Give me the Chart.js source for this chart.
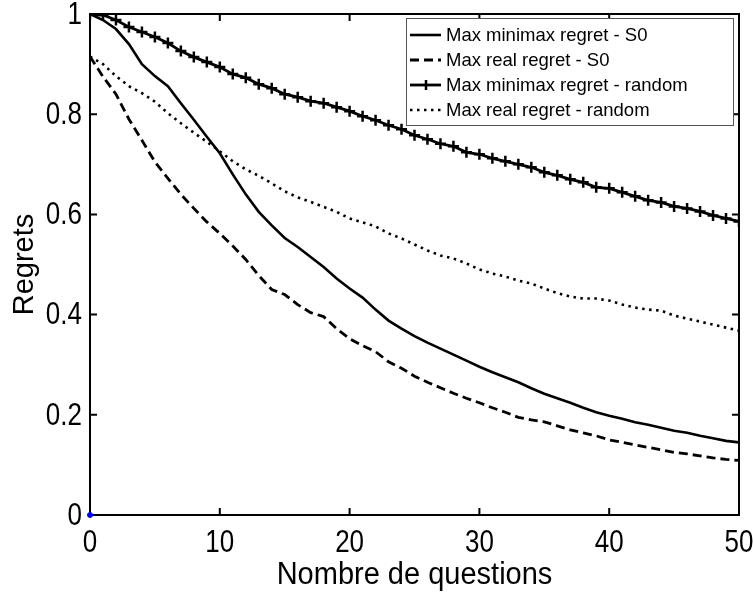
<!DOCTYPE html>
<html>
<head>
<meta charset="utf-8">
<title>Regrets</title>
<script src="https://cdn.jsdelivr.net/npm/chart.js@4.4.1/dist/chart.umd.min.js"></script>
<style>
  html, body { margin: 0; padding: 0; background: #fff; }
  #wrap { width: 753px; height: 592px; }
</style>
</head>
<body>
<div id="wrap"><canvas id="graphe" width="753" height="592"></canvas></div>
<script>
// nombre de questions posées
const questions = [0, 1, 2, 3, 4, 5, 6, 7, 8, 9, 10, 11, 12, 13, 14, 15, 16, 17, 18, 19, 20,
  21, 22, 23, 24, 25, 26, 27, 28, 29, 30, 31, 32, 33, 34, 35, 36, 37, 38, 39, 40,
  41, 42, 43, 44, 45, 46, 47, 48, 49, 50];

const minimaxS0 = [1.0, 0.988, 0.97, 0.94, 0.90, 0.876, 0.856, 0.822, 0.789, 0.755, 0.722,
  0.68, 0.64, 0.605, 0.578, 0.553, 0.535, 0.515, 0.495, 0.472, 0.452,
  0.434, 0.41, 0.388, 0.372, 0.357, 0.344, 0.332, 0.32, 0.308, 0.296,
  0.285, 0.275, 0.265, 0.253, 0.242, 0.233, 0.224, 0.214, 0.205, 0.198,
  0.192, 0.185, 0.18, 0.174, 0.168, 0.164, 0.158, 0.153, 0.148, 0.145];

const reelS0 = [0.915, 0.875, 0.84, 0.79, 0.748, 0.705, 0.672, 0.64, 0.612, 0.585, 0.562,
  0.537, 0.51, 0.478, 0.45, 0.44, 0.42, 0.404, 0.396, 0.372, 0.352,
  0.338, 0.326, 0.306, 0.293, 0.277, 0.265, 0.254, 0.243, 0.233, 0.224,
  0.214, 0.205, 0.195, 0.19, 0.186, 0.178, 0.17, 0.164, 0.158, 0.15,
  0.145, 0.14, 0.135, 0.13, 0.125, 0.122, 0.118, 0.114, 0.111, 0.109];

const minimaxRandom = [1.0, 0.998, 0.988, 0.974, 0.964, 0.954, 0.942, 0.926, 0.914, 0.904, 0.894,
  0.88, 0.873, 0.86, 0.852, 0.84, 0.834, 0.826, 0.822, 0.814, 0.806,
  0.796, 0.788, 0.778, 0.77, 0.758, 0.75, 0.741, 0.736, 0.724, 0.72,
  0.712, 0.706, 0.70, 0.694, 0.684, 0.678, 0.67, 0.664, 0.654, 0.652,
  0.644, 0.636, 0.628, 0.624, 0.616, 0.612, 0.606, 0.598, 0.592, 0.586];

const reelRandom = [0.915, 0.90, 0.876, 0.856, 0.842, 0.825, 0.802, 0.782, 0.763, 0.745, 0.726,
  0.706, 0.69, 0.677, 0.662, 0.646, 0.634, 0.625, 0.615, 0.605, 0.592,
  0.584, 0.576, 0.562, 0.552, 0.54, 0.528, 0.518, 0.512, 0.502, 0.49,
  0.482, 0.476, 0.468, 0.462, 0.452, 0.443, 0.436, 0.432, 0.432, 0.428,
  0.42, 0.414, 0.41, 0.408, 0.398, 0.392, 0.386, 0.38, 0.374, 0.368];

const nomsSeries = [
  "Max minimax regret - S0",
  "Max real regret - S0",
  "Max minimax regret - random",
  "Max real regret - random"
];

const xTicks = [0, 10, 20, 30, 40, 50];
const xTickLabels = ["0", "10", "20", "30", "40", "50"];
const yTicks = [0, 0.2, 0.4, 0.6, 0.8, 1];
const yTickLabels = ["0", "0.2", "0.4", "0.6", "0.8", "1"];
const titreX = "Nombre de questions";
const titreY = "Regrets";

const police = "'Liberation Sans', Arial, sans-serif";

function points(valeurs) {
  return questions.map((q, i) => ({ x: q, y: valeurs[i] }));
}

// texte un peu étiré en hauteur, comme dans la figure exportée
function texteEtire(ctx, txt, x, y, align, etirement) {
  ctx.save();
  ctx.translate(x, y);
  ctx.scale(1, etirement);
  ctx.textAlign = align;
  ctx.textBaseline = "middle";
  ctx.fillText(txt, 0, 0);
  ctx.restore();
}

// cadre fermé avec graduations vers l'intérieur (style matlab)
const cadre = {
  id: "cadre",
  beforeDatasetsDraw(chart) {
    const { ctx, chartArea: a, scales } = chart;
    const lg = 7;
    ctx.save();
    ctx.strokeStyle = "#000";
    ctx.lineWidth = 2;
    ctx.strokeRect(a.left, a.top, a.right - a.left, a.bottom - a.top);
    ctx.beginPath();
    xTicks.forEach(v => {
      const px = scales.x.getPixelForValue(v);
      ctx.moveTo(px, a.bottom); ctx.lineTo(px, a.bottom - lg);
      ctx.moveTo(px, a.top); ctx.lineTo(px, a.top + lg);
    });
    yTicks.forEach(v => {
      const py = scales.y.getPixelForValue(v);
      ctx.moveTo(a.left, py); ctx.lineTo(a.left + lg, py);
      ctx.moveTo(a.right, py); ctx.lineTo(a.right - lg, py);
    });
    ctx.stroke();
    ctx.restore();
  },
  afterDraw(chart) {
    const { ctx, chartArea: a, scales } = chart;
    ctx.save();
    ctx.fillStyle = "#000";
    ctx.font = "26px " + police;
    xTicks.forEach((v, i) => {
      texteEtire(ctx, xTickLabels[i], scales.x.getPixelForValue(v), a.bottom + 28, "center", 1.22);
    });
    yTicks.forEach((v, i) => {
      texteEtire(ctx, yTickLabels[i], a.left - 8, scales.y.getPixelForValue(v) + 1, "right", 1.22);
    });
    ctx.font = "29px " + police;
    texteEtire(ctx, titreX, (a.left + a.right) / 2, 575, "center", 1.1);
    ctx.translate(25, (a.top + a.bottom) / 2);
    ctx.rotate(-Math.PI / 2);
    texteEtire(ctx, titreY, 0, 0, "center", 1.0);
    ctx.restore();
  }
};

// légende encadrée en haut à droite
const legende = {
  id: "legende",
  afterDatasetsDraw(chart) {
    const { ctx } = chart;
    const box = { x: 406, y: 18, w: 327, h: 107 };
    ctx.save();
    ctx.fillStyle = "#fff";
    ctx.fillRect(box.x, box.y, box.w, box.h);
    ctx.strokeStyle = "#555";
    ctx.lineWidth = 1;
    ctx.strokeRect(box.x + 0.5, box.y + 0.5, box.w, box.h);
    ctx.font = "18.5px " + police;
    ctx.textBaseline = "middle";
    nomsSeries.forEach((nom, i) => {
      const ds = chart.data.datasets[i];
      const y = box.y + 17 + i * 25;
      ctx.strokeStyle = "#000";
      ctx.lineWidth = ds.borderWidth;
      ctx.setLineDash(ds.borderDash || []);
      ctx.beginPath();
      ctx.moveTo(box.x + 4, y);
      ctx.lineTo(box.x + 35, y);
      ctx.stroke();
      ctx.setLineDash([]);
      if (ds.pointStyle === "cross") {
        ctx.lineWidth = 2.5;
        ctx.beginPath();
        ctx.moveTo(box.x + 20, y - 5); ctx.lineTo(box.x + 20, y + 5);
        ctx.stroke();
      }
      ctx.fillStyle = "#000";
      ctx.fillText(nom, box.x + 40, y + 1);
    });
    ctx.restore();
  }
};

new Chart(document.getElementById("graphe"), {
  type: "line",
  data: {
    datasets: [
      {
        label: nomsSeries[0],
        data: points(minimaxS0),
        borderColor: "#000",
        borderWidth: 2.6,
        pointRadius: 0
      },
      {
        label: nomsSeries[1],
        data: points(reelS0),
        borderColor: "#000",
        borderWidth: 2.8,
        borderDash: [9, 5],
        pointRadius: 0
      },
      {
        label: nomsSeries[2],
        data: points(minimaxRandom),
        borderColor: "#000",
        borderWidth: 2.8,
        pointStyle: "cross",
        pointRadius: 5.5,
        pointBorderWidth: 2.5,
        pointBorderColor: "#000"
      },
      {
        label: nomsSeries[3],
        data: points(reelRandom),
        borderColor: "#000",
        borderWidth: 2.6,
        borderDash: [2.5, 4.5],
        pointRadius: 0
      },
      {
        label: "origine",
        data: [{ x: 0, y: 0 }],
        pointRadius: 2.5,
        pointBackgroundColor: "#0000ff",
        pointBorderColor: "#0000ff",
        showLine: false,
        clip: false
      }
    ]
  },
  options: {
    responsive: false,
    animation: false,
    devicePixelRatio: 1,
    layout: { padding: { top: 14, right: 14, left: 0, bottom: 0 } },
    plugins: {
      legend: { display: false },
      tooltip: { enabled: false }
    },
    scales: {
      x: {
        type: "linear",
        min: 0,
        max: 50,
        afterFit: s => { s.height = 77; },
        afterBuildTicks: s => { s.ticks = xTicks.map(v => ({ value: v })); },
        grid: { display: false, drawTicks: false },
        border: { display: false },
        ticks: { display: false }
      },
      y: {
        type: "linear",
        min: 0,
        max: 1,
        afterFit: s => { s.width = 90; },
        afterBuildTicks: s => { s.ticks = yTicks.map(v => ({ value: v })); },
        grid: { display: false, drawTicks: false },
        border: { display: false },
        ticks: { display: false }
      }
    }
  },
  plugins: [cadre, legende]
});
</script>
</body>
</html>
